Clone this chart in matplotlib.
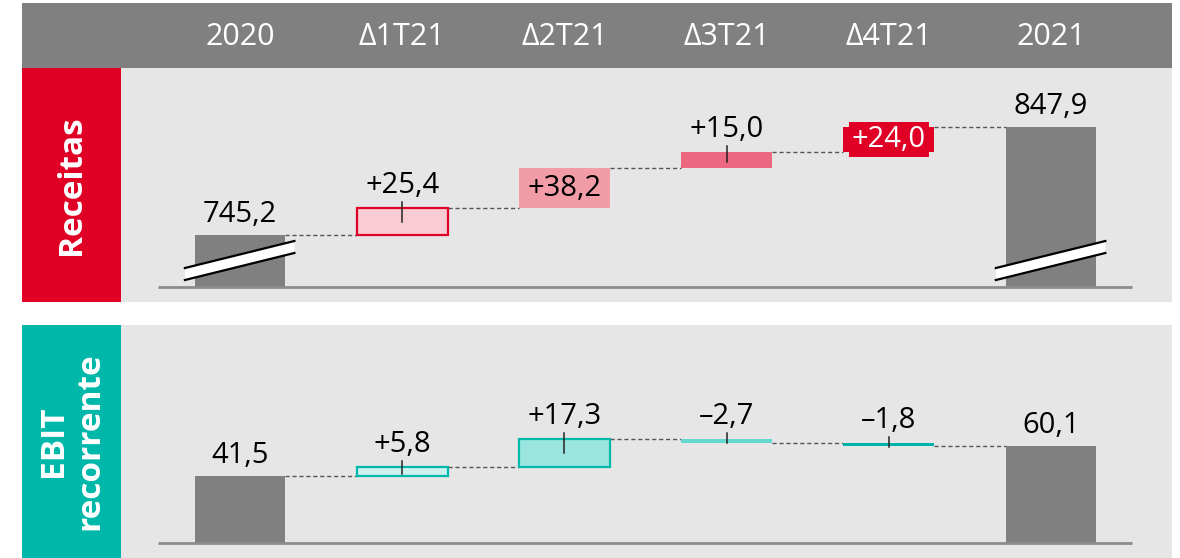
import matplotlib.pyplot as plt
from matplotlib.patches import Rectangle, Polygon
import matplotlib.transforms as mtransforms

plt.rcParams['font.family'] = ['Open Sans', 'DejaVu Sans']

# ---- data ----
COLUMNS = ['2020', 'Δ1T21', 'Δ2T21', 'Δ3T21', 'Δ4T21', '2021']

REC_START = 745.2
REC_DELTAS = [25.4, 38.2, 15.0, 24.0]
REC_END = 847.9

EBIT_START = 41.5
EBIT_DELTAS = [5.8, 17.3, -2.7, -1.8]
EBIT_END = 60.1

RED = '#E10025'
TEAL = '#00B8AA'
REC_STYLES = [  # face, edge, label mode
    ('#F9CCD3', RED, 'above'),
    ('#F29CA8', None, 'inside'),
    ('#EC6880', None, 'above'),
    (RED, None, 'inside_white'),
]
EBIT_STYLES = [
    ('#CCF1EE', TEAL, 'above'),
    ('#9AE5E0', TEAL, 'above'),
    ('#66D7CF', None, 'above'),
    ('#00B5A8', None, 'above'),
]

W, H = 1180, 558
VAL_FS = 21
fig = plt.figure(figsize=(W / 100, H / 100), dpi=100)
fig.patch.set_facecolor('white')


def px_axes(x0, y0, x1, y1):
    # pixel box (top-left origin) -> figure axes
    return fig.add_axes([x0 / W, 1 - y1 / H, (x1 - x0) / W, (y1 - y0) / H])


def fmt(v, sign=False):
    s = f"{abs(v):.1f}".replace('.', ',')
    if sign:
        s = ('+' if v >= 0 else '–') + s
    return s


# header band
hdr = px_axes(22, 3, 1172, 68)
hdr.set_xlim(-0.734 - 99 / 162.2, 5.746)
hdr.set_ylim(0, 1)
hdr.axis('off')
hdr.add_patch(Rectangle((0, 0), 1, 1, transform=hdr.transAxes, color='#808080'))
for i, c in enumerate(COLUMNS):
    hdr.text(i, 0.47, c, color='white', fontsize=22, ha='center', va='center')

BAR_W = 0.56


def draw_break(ax, x, base):
    # slanted axis-break marker across a total bar
    x0, x1 = x - 0.34, x + 0.335
    lo0, hi0 = base + 6.6, base + 18.0
    lo1, hi1 = base + 32.3, base + 43.7
    ax.add_patch(Polygon([(x0, lo0), (x1, lo1), (x1, hi1), (x0, hi0)],
                         closed=True, facecolor='white', edgecolor='none', zorder=4))
    ax.plot([x0, x1], [lo0, lo1], color='black', lw=1.6, zorder=5)
    ax.plot([x0, x1], [hi0, hi1], color='black', lw=1.6, zorder=5)


def panel(y0, y1, ylim, base, start, deltas, end, styles, side_color, side_text, broken):
    side = px_axes(22, y0, 121, y1)
    side.set_facecolor(side_color)
    side.set_xticks([]); side.set_yticks([])
    for s in side.spines.values():
        s.set_visible(False)
    side.text(0.5, 0.5, side_text, color='white', fontsize=24, fontweight='bold',
              rotation=90, ha='center', va='center', linespacing=1.12,
              multialignment='center', transform=side.transAxes)

    ax = px_axes(121, y0, 1172, y1)
    ax.set_facecolor('#E6E6E6')
    ax.set_xlim(-0.734, 5.746)
    ax.set_ylim(*ylim)
    ax.set_xticks([]); ax.set_yticks([])
    for s in ax.spines.values():
        s.set_visible(False)

    up = mtransforms.offset_copy(ax.transData, fig=fig, x=0, y=6, units='dots')
    up2 = mtransforms.offset_copy(ax.transData, fig=fig, x=0, y=8, units='dots')
    inv = ax.transData.inverted()

    # totals
    for i, v in [(0, start), (5, end)]:
        ax.bar(i, v - base, bottom=base, width=BAR_W, color='#808080', zorder=3)
        ax.text(i, v, fmt(v), transform=up, ha='center', va='bottom',
                fontsize=VAL_FS, zorder=6)
        if broken:
            draw_break(ax, i, base)

    # deltas
    level = start
    for k, (d, (face, edge, mode)) in enumerate(zip(deltas, styles)):
        i = k + 1
        new = level + d
        lo, hi = min(level, new), max(level, new)
        if edge:
            ax.add_patch(Rectangle((i - BAR_W / 2, lo), BAR_W, hi - lo, facecolor=face,
                                   edgecolor=edge, lw=1.6, zorder=3))
        else:
            ax.bar(i, hi - lo, bottom=lo, width=BAR_W, color=face, zorder=3)
        # dashed connector from previous bar
        ax.plot([i - 1 + BAR_W / 2, i - BAR_W / 2], [level, level], color='#555555',
                lw=1, ls=(0, (3, 2)), zorder=2)
        if mode == 'above':
            t_hi = ax.transData.transform((i, hi))
            t_lo = ax.transData.transform((i, lo))
            depth = min(14, (t_hi[1] - t_lo[1]) / 2 + 2)
            ya = inv.transform((t_hi[0], t_hi[1] + 6))[1]
            yb = inv.transform((t_hi[0], t_hi[1] - depth))[1]
            ax.plot([i, i], [yb, ya], color='#222222', lw=1.1, zorder=5)
            ax.text(i, hi, fmt(d, True), transform=up2,
                    ha='center', va='bottom', fontsize=VAL_FS, zorder=6)
        elif mode == 'inside':
            ax.text(i, (lo + hi) / 2, fmt(d, True), ha='center', va='center',
                    fontsize=VAL_FS, color='black', zorder=6)
        else:
            ax.text(i, (lo + hi) / 2, fmt(d, True), ha='center', va='center',
                    fontsize=VAL_FS, color='white', zorder=6,
                    bbox=dict(boxstyle='square,pad=0.1', facecolor=face,
                              edgecolor='none'))
        level = new
    ax.plot([4 + BAR_W / 2, 5 - BAR_W / 2], [level, level], color='#555555',
            lw=1, ls=(0, (3, 2)), zorder=2)

    # baseline
    ax.plot([-0.506, 5.5], [base, base], color='#8C8C8C', lw=2, zorder=4,
            solid_capstyle='butt')


panel(68, 302, (681.5, 904.0), 695.8, REC_START, REC_DELTAS, REC_END,
      REC_STYLES, RED, 'Receitas', True)
panel(325, 558, (-9.3, 135.4), 0.0, EBIT_START, EBIT_DELTAS, EBIT_END,
      EBIT_STYLES, TEAL, 'EBIT\nrecorrente', False)

fig.savefig('out.png', dpi=100)
